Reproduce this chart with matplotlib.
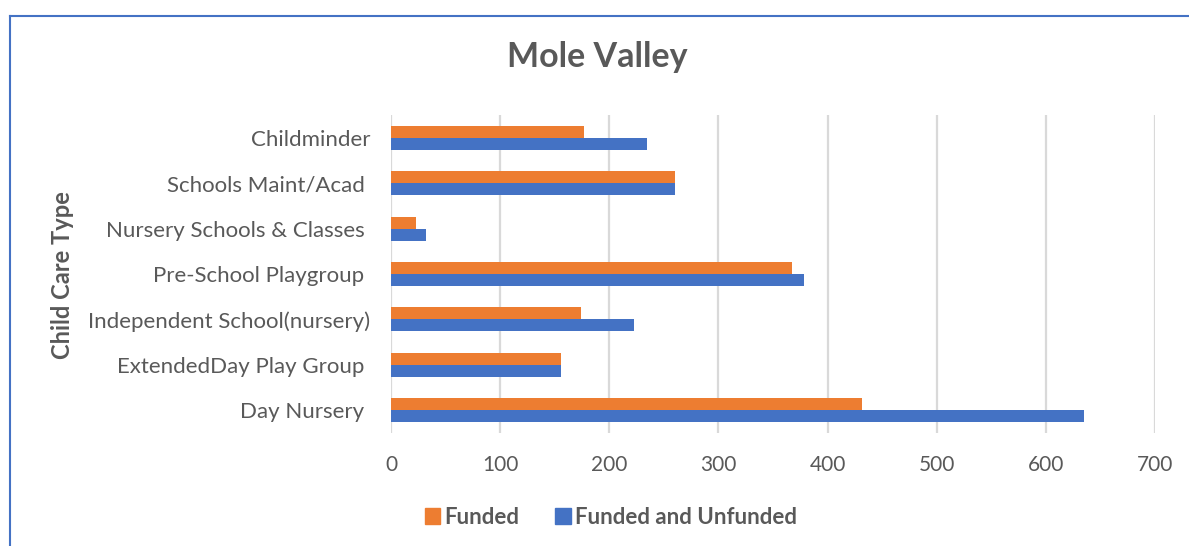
import numpy as np
import matplotlib.pyplot as plt
from matplotlib.lines import Line2D
from matplotlib.patches import Patch

# categories listed top to bottom as in the chart
categories = ["Childminder", "Schools Maint/Acad ", "Nursery Schools & Classes ",
              "Pre-School Playgroup ", "Independent School(nursery)",
              "ExtendedDay Play Group ", "Day Nursery "]
funded = [177, 260, 23, 367, 174, 156, 432]
funded_unfunded = [235, 260, 32, 378, 223, 156, 635]
xticks = [0, 100, 200, 300, 400, 500, 600, 700]

plt.rcParams['font.family'] = ['Lato', 'DejaVu Sans']
grey = '#595959'
orange = '#ED7D31'
blue = '#4472C4'

fig = plt.figure(figsize=(11.89, 5.46), dpi=100)
ax = fig.add_axes([391 / 1189, 1 - 433 / 546, (1155 - 391) / 1189, (433 - 115) / 546])

y = np.arange(len(categories))
h = 0.265
ax.barh(y - h / 2, funded, height=h, color=orange, label="Funded", zorder=3)
ax.barh(y + h / 2, funded_unfunded, height=h, color=blue, label="Funded and Unfunded", zorder=3)

ax.set_ylim(len(categories) - 0.5, -0.5)
ax.set_xlim(0, 700)
ax.set_xticks(xticks)
ax.set_yticks(y)
ax.set_yticklabels(categories)
ax.tick_params(axis='both', length=0, colors=grey)
ax.tick_params(axis='x', pad=16, labelsize=15)
ax.tick_params(axis='y', pad=15, labelsize=16)
ax.grid(axis='x', color='#d9d9d9', linewidth=1.6, zorder=0)
for s in ax.spines.values():
    s.set_visible(False)

fig.text(597 / 1189, 1 - 57 / 546, "Mole Valley", ha='center', va='center',
         fontsize=24.5, fontweight='bold', color=grey)
fig.text(62 / 1189, 1 - 275 / 546, "Child Care Type", ha='center', va='center',
         rotation=90, fontsize=17, fontweight='bold', color=grey)

handles = [Patch(color=orange), Patch(color=blue)]
fig.legend(handles, ["Funded", "Funded and Unfunded"], loc='center',
           bbox_to_anchor=(611 / 1189, 1 - 517 / 546), ncol=2, frameon=False,
           prop={'size': 16, 'weight': 'bold'}, labelcolor=grey,
           handlelength=0.7, handleheight=0.7, handletextpad=0.2, columnspacing=1.6)

# outer chart border (only top and left edges fall inside the picture)
top = 1 - 16 / 546
left = 10 / 1189
fig.add_artist(Line2D([left, 1.05], [top, top], transform=fig.transFigure,
                      color=blue, linewidth=1.5))
fig.add_artist(Line2D([left, left], [-0.05, top], transform=fig.transFigure,
                      color=blue, linewidth=1.5))

fig.savefig("out.png", dpi=100)
